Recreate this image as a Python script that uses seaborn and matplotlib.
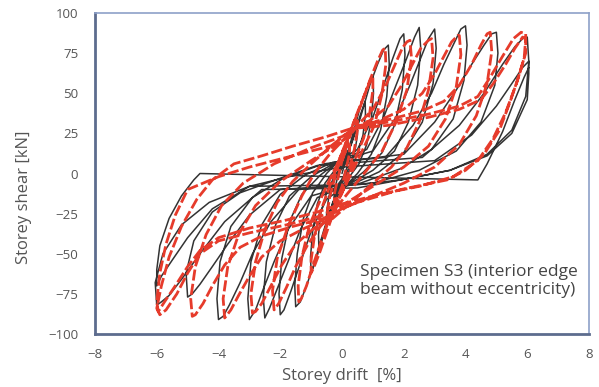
import matplotlib
matplotlib.use("Agg")
import matplotlib.pyplot as plt
import seaborn as sns
import pandas as pd

# ---- test (black) : drift [%] / shear [kN], cycle by cycle ----
black_drift = (
    [0, 0.1, 0.2, 0.25, 0.24, 0.15, 0, -0.1, -0.2, -0.25, -0.24, -0.15, 0]
    + [0.15, 0.3, 0.42, 0.5, 0.5, 0.42, 0.3, 0.1, -0.1, -0.2, -0.32, -0.43, -0.5, -0.5, -0.42, -0.3, -0.1, 0.1]
    + [0.25, 0.45, 0.62, 0.75, 0.76, 0.68, 0.5, 0.25, 0, -0.25, -0.45, -0.62, -0.75, -0.76, -0.68, -0.5, -0.25, 0]
    + [0.2, 0.4, 0.6, 0.8, 1.0, 1.02, 0.95, 0.8, 0.55, 0.2, -0.1, -0.3, -0.5, -0.7, -0.88, -1.0, -1.02, -0.95, -0.8, -0.55, -0.2, 0.1]
    + [0.3, 0.6, 0.9, 1.15, 1.35, 1.5, 1.53, 1.45, 1.25, 0.95, 0.5, 0.1, -0.3, -0.6, -0.9, -1.15, -1.35, -1.5, -1.53, -1.45, -1.25, -0.95, -0.5, -0.1]
    + [0.5, 1.0, 1.35, 1.65, 1.88, 2.0, 2.04, 1.95, 1.7, 1.3, 0.7, 0.1, -0.5, -1.0, -1.35, -1.65, -1.88, -2.0, -2.04, -1.95, -1.7, -1.3, -0.7, -0.1]
    + [0.8, 1.35, 1.75, 2.1, 2.35, 2.5, 2.55, 2.45, 2.15, 1.7, 1.0, 0.2, -0.8, -1.35, -1.75, -2.1, -2.35, -2.5, -2.55, -2.45, -2.15, -1.7, -1.0, -0.2]
    + [1.0, 1.75, 2.2, 2.55, 2.8, 3.0, 3.05, 2.95, 2.6, 2.0, 1.2, 0.3, -1.0, -1.75, -2.2, -2.55, -2.8, -3.0, -3.05, -2.95, -2.6, -2.0, -1.2, -0.3]
    + [1.4, 2.3, 2.9, 3.3, 3.65, 3.85, 4.0, 4.05, 3.95, 3.6, 2.9, 1.9, 0.6, -1.4, -2.3, -2.9, -3.3, -3.65, -3.85, -4.0, -4.05, -3.95, -3.6, -2.9, -1.9, -0.6]
    + [2.0, 3.0, 3.7, 4.2, 4.6, 4.85, 5.0, 5.05, 4.95, 4.5, 3.7, 2.5, 1.0, -2.0, -3.0, -3.7, -4.2, -4.6, -4.85, -5.0, -5.05, -4.8, -4.2, -3.3, -2.0, -0.8]
    + [2.6, 3.8, 4.6, 5.2, 5.6, 5.85, 6.0, 6.05, 5.95, 5.5, 4.7, 3.5, 1.9, 0.5, -2.6, -3.8, -4.6, -5.2, -5.6, -5.85, -6.0, -6.05, -5.8, -5.2, -4.3, -3.0, -1.5, 0.0]
    + [3.0, 4.2, 5.0, 5.5, 5.85, 6.05, 6.05, 6.0, 5.5, 4.7, 3.5, 1.9, 0.5, -3.0, -4.2, -5.0, -5.5, -5.85, -6.0, -6.0, -5.9, -5.6, -5.2, -4.8, -4.6, 4.4, 4.7, 5.2, 5.6, 5.9, 6.05]
)
black_shear = (
    [0, 7, 12, 15, 10, 3, -4, -8, -12, -15, -10, -3, 4]
    + [10, 19, 26, 30, 24, 14, 6, -1, -6, -12, -20, -26, -30, -24, -14, -6, 1, 6]
    + [16, 28, 38, 45, 37, 24, 12, 2, -6, -16, -28, -39, -46, -38, -24, -12, -2, 6]
    + [14, 28, 42, 53, 60, 50, 34, 18, 6, -3, -10, -20, -32, -45, -56, -62, -52, -36, -19, -6, 3, 10]
    + [18, 35, 55, 68, 77, 80, 68, 48, 27, 12, 0, -8, -18, -36, -56, -70, -80, -83, -70, -50, -28, -12, 0, 8]
    + [15, 35, 55, 72, 84, 87, 74, 52, 30, 13, 1, -8, -16, -36, -56, -73, -85, -88, -75, -53, -30, -13, -1, 8]
    + [15, 35, 55, 72, 85, 91, 78, 55, 32, 14, 2, -7, -15, -35, -55, -72, -84, -90, -77, -55, -32, -14, -2, 7]
    + [14, 35, 55, 72, 84, 90, 78, 56, 32, 13, 1, -7, -14, -35, -55, -72, -85, -91, -78, -55, -32, -13, -1, 7]
    + [10, 30, 50, 68, 82, 90, 92, 80, 58, 34, 15, 3, -6, -10, -30, -50, -68, -82, -89, -91, -78, -55, -33, -15, -3, 6]
    + [12, 32, 52, 68, 80, 87, 88, 75, 55, 32, 14, 2, -6, -10, -26, -44, -58, -69, -75, -77, -62, -42, -24, -12, -3, 5]
    + [10, 30, 50, 68, 79, 84, 85, 70, 48, 27, 12, 2, -4, -9, -10, -30, -50, -66, -76, -80, -82, -68, -50, -32, -18, -8, -1, 4]
    + [8, 24, 42, 56, 66, 70, 62, 46, 25, 11, 2, -4, -7, -8, -22, -40, -54, -64, -70, -60, -45, -28, -14, -4, 0, -4, 6, 26, 46, 60, 66]
)

# ---- numerical model (red, dashed) ----
red_drift = (
    [0, 0.12, 0.25, 0.24, 0.12, 0, -0.12, -0.25, -0.24, -0.12, 0]
    + [0.2, 0.35, 0.5, 0.5, 0.4, 0.2, 0, -0.2, -0.35, -0.5, -0.5, -0.4, -0.2, 0]
    + [0.25, 0.5, 0.75, 0.92, 1.0, 1.0, 0.9, 0.7, 0.4, 0.1, -0.2, -0.45, -0.7, -0.9, -1.0, -1.0, -0.9, -0.7, -0.4, -0.1, 0.1]
    + [0.3, 0.6, 0.9, 1.15, 1.32, 1.4, 1.42, 1.3, 1.05, 0.6, 0.1, -0.3, -0.6, -0.9, -1.15, -1.32, -1.4, -1.42, -1.3, -1.05, -0.6, -0.1, 0.2]
    + [0.5, 1.0, 1.4, 1.7, 1.95, 2.1, 2.2, 2.25, 2.1, 1.75, 1.3, 0.8, 0.2, -0.3, -0.7, -1.1, -1.5, -1.8, -2.05, -2.2, -2.25, -2.1, -1.75, -1.3, -0.9, -0.4, 0.1]
    + [0.3, 0.9, 1.5, 1.9, 2.25, 2.55, 2.8, 2.9, 2.95, 2.8, 2.5, 2.1, 1.6, 1.0, 0.3, -0.3, -0.9, -1.5, -1.95, -2.3, -2.6, -2.8, -2.9, -2.95, -2.8, -2.5, -2.1, -1.6, -1.0, -0.3, 0.3]
    + [0.4, 1.2, 2.0, 2.6, 3.0, 3.3, 3.55, 3.75, 3.8, 3.85, 3.7, 3.35, 2.8, 2.0, 1.0, 0, -0.5, -1.2, -2.0, -2.6, -3.0, -3.35, -3.6, -3.8, -3.85, -3.7, -3.35, -2.8, -2.0, -1.0, 0, 0.4]
    + [0.6, 1.6, 2.6, 3.3, 3.8, 4.2, 4.5, 4.7, 4.8, 4.85, 4.7, 4.35, 3.8, 3.0, 2.0, 1.0, 0, -0.6, -1.6, -2.6, -3.3, -3.8, -4.2, -4.5, -4.75, -4.85, -4.9, -4.75, -4.4, -3.9, -3.2, -2.2, -1.0, 0, 0.6]
    + [1.5, 2.8, 3.8, 4.4, 4.8, 5.2, 5.55, 5.8, 5.95, 5.95, 5.75, 5.45, 5.1, 4.6, 4.0, 3.4, 1.9, 0.5, -0.6, -1.8, -3.0, -4.0, -4.6, -5.0, -5.35, -5.7, -5.9, -6.0, -5.85, -5.6, -5.2, -4.7, -4.2, -3.5, -2.6, -1.6, -0.5, 0.3]
    + [1.5, 2.8, 3.8, 4.5, 4.9, 5.3, 5.6, 5.85, 5.95, 5.9, 5.65, 5.3, 4.9, 4.4, 3.6, 2.5, 1.2, 0, -0.8, -1.8, -3.0, -4.0, -4.6, -5.0, -5.4, -5.75, -5.95, -6.0, -5.9, -5.7, -5.4, -5.0, -4.0, -3.0, -2.0, -1.0, 0]
)
red_shear = (
    [8, 14, 18, 12, 2, -8, -14, -18, -12, -2, 8]
    + [20, 28, 33, 27, 15, 0, -12, -20, -28, -33, -27, -15, 0, 12]
    + [25, 38, 50, 58, 60, 52, 38, 22, 8, -8, -20, -34, -48, -58, -62, -54, -40, -24, -8, 8, 18]
    + [28, 42, 58, 70, 77, 78, 68, 50, 30, 12, -8, -22, -38, -55, -70, -78, -80, -70, -52, -32, -12, 8, 22]
    + [30, 40, 54, 67, 78, 82, 83, 72, 52, 32, 14, 2, -12, -24, -33, -44, -58, -71, -81, -85, -73, -53, -33, -14, 0, 12, 22]
    + [27, 33, 42, 54, 67, 78, 83, 84, 72, 52, 32, 16, 4, -6, -18, -28, -34, -44, -57, -70, -81, -86, -87, -75, -55, -35, -18, -5, 6, 18, 27]
    + [28, 33, 40, 50, 62, 73, 82, 86, 86, 74, 54, 34, 17, 4, -8, -20, -28, -34, -42, -52, -64, -76, -85, -90, -78, -58, -38, -20, -5, 8, 20, 28]
    + [30, 34, 39, 45, 55, 68, 80, 87, 88, 76, 56, 36, 18, 4, -6, -14, -22, -28, -33, -39, -46, -57, -70, -81, -88, -89, -78, -58, -38, -20, -6, 6, 16, 23, 30]
    + [32, 37, 42, 48, 60, 73, 84, 88, 87, 75, 62, 45, 27, 12, 2, -4, -10, -18, -26, -32, -37, -42, -50, -62, -75, -85, -88, -84, -70, -52, -33, -16, -4, 6, 11, 17, 23, 28]
    + [30, 35, 40, 46, 56, 68, 78, 85, 84, 72, 56, 38, 22, 8, -2, -8, -13, -19, -24, -29, -34, -40, -48, -58, -70, -80, -86, -80, -62, -44, -26, -10, -2, 4, 9, 14, 19]
)

x_ticks = [-8, -6, -4, -2, 0, 2, 4, 6, 8]
y_ticks = [-100, -75, -50, -25, 0, 25, 50, 75, 100]
x_label = "Storey drift  [%]"
y_label = "Storey shear [kN]"
note = "Specimen S3 (interior edge\nbeam without eccentricity)"

sns.set_theme(style="white")
plt.rcParams["font.family"] = ["Open Sans", "DejaVu Sans"]

fig = plt.figure(figsize=(5.99, 3.87), dpi=100)
ax = fig.add_axes([95 / 599, 1 - 334 / 387, (589 - 95) / 599, (334 - 13) / 387])

black_df = pd.DataFrame({"drift": black_drift, "shear": black_shear})
red_df = pd.DataFrame({"drift": red_drift, "shear": red_shear})

sns.lineplot(data=black_df, x="drift", y="shear", sort=False, estimator=None,
             color="#333333", lw=1.1, ax=ax)
sns.lineplot(data=red_df, x="drift", y="shear", sort=False, estimator=None,
             color="#e63b2b", lw=2.0, linestyle=(0, (4, 1.2)), ax=ax)

ax.set_xlim(-8, 8)
ax.set_ylim(-100, 100)
ax.set_xticks(x_ticks)
ax.set_yticks(y_ticks)
ax.set_xlabel(x_label, fontsize=12, color="#555555", labelpad=5)
ax.set_ylabel(y_label, fontsize=12, color="#555555")
ax.yaxis.set_label_coords(-0.128, 0.427)
ax.tick_params(axis="both", direction="in", length=3, width=1, color="#8a97b5",
               labelcolor="#555555", labelsize=9.5)
ax.tick_params(axis="y", pad=12)
ax.tick_params(axis="x", pad=10)

for side in ["left", "bottom"]:
    ax.spines[side].set_color("#5d6c8e")
    ax.spines[side].set_linewidth(2.0)
for side in ["top", "right"]:
    ax.spines[side].set_color("#8ea1c8")
    ax.spines[side].set_linewidth(1.2)

ax.text(0.58, -67, note, fontsize=12.5, color="#444444", ha="left", va="center",
        linespacing=1.2)

fig.savefig("out.png", dpi=100)
